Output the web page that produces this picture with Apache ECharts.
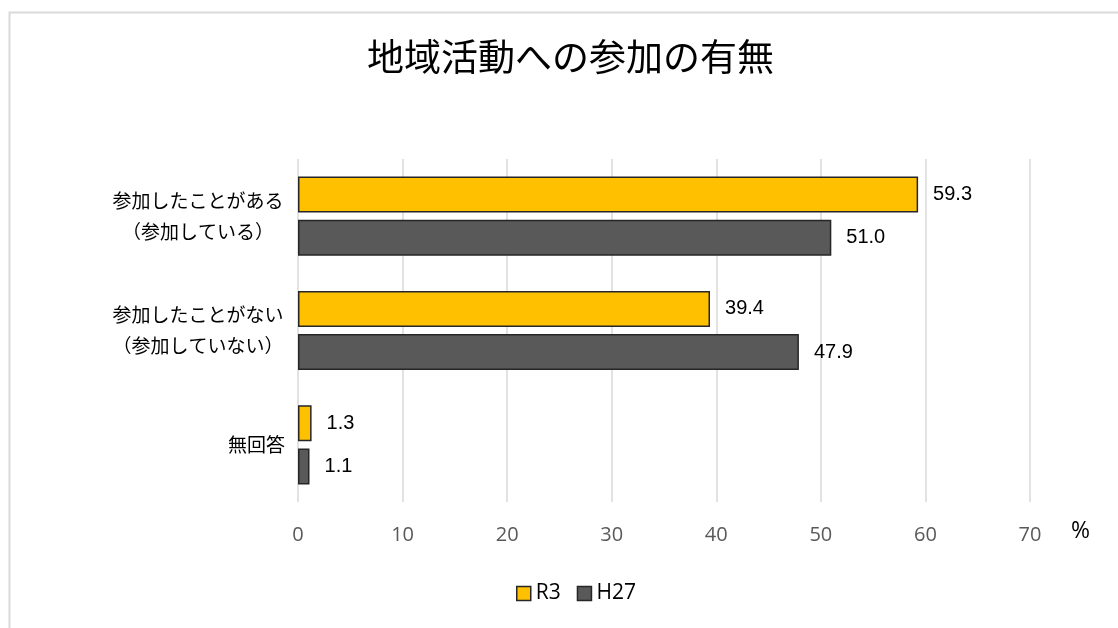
<!DOCTYPE html>
<html>
<head>
<meta charset="utf-8">
<script src="https://cdn.jsdelivr.net/npm/echarts@6/dist/echarts.min.js"></script>
<style>
  html, body { margin: 0; padding: 0; background: #fff; }
  #chart { width: 1118px; height: 628px; }
</style>
</head>
<body>
<div id="chart"></div>
<script>
// Survey answers: participation in local community activities (%)
const categories = ['参加したことがある\n（参加している）', '参加したことがない\n（参加していない）', '無回答'];
const seriesNames = ['R3', 'H27'];
const valuesR3 = [59.3, 39.4, 1.3];
const valuesH27 = [51.0, 47.9, 1.1];
const seriesColors = ['#FFC000', '#595959'];

const chart = echarts.init(document.getElementById('chart'));

const labelFont = '"Noto Sans CJK JP", "Noto Sans", sans-serif';
const numFont = '"Liberation Sans", Arial, sans-serif';

function makeSeries(name, data, color) {
  return {
    name: name,
    type: 'bar',
    data: data,
    barWidth: 36,
    barGap: '20%',
    itemStyle: { color: color, borderColor: '#262626', borderWidth: 1.5 },
    label: {
      show: true,
      position: 'right',
      distance: 15,
      color: '#000',
      fontFamily: numFont,
      fontSize: 20,
      formatter: p => p.value.toFixed(1)
    }
  };
}

chart.setOption({
  animation: false,
  backgroundColor: '#fff',
  title: {
    text: '地域活動への参加の有無',
    left: 362,
    top: 33,
    textStyle: { fontFamily: labelFont, fontSize: 37, fontWeight: 'normal', color: '#000' }
  },
  legend: {
    bottom: 19,
    left: 511,
    itemWidth: 14,
    itemHeight: 14,
    itemGap: 16,
    icon: 'rect',
    textStyle: { fontFamily: '"Open Sans", sans-serif', fontSize: 21, color: '#000' },
    data: seriesNames.map((n, i) => ({
      name: n,
      itemStyle: { color: seriesColors[i], borderColor: '#262626', borderWidth: 1.5 }
    }))
  },
  grid: { left: 298, right: 88, top: 159, bottom: 126 },
  xAxis: {
    type: 'value',
    min: 0,
    max: 70,
    interval: 10,
    axisLine: { show: false },
    axisTick: { show: false },
    axisLabel: { margin: 23, fontFamily: '"Open Sans", sans-serif', fontSize: 20, color: '#595959' },
    splitLine: { show: true, lineStyle: { color: '#d9d9d9', width: 1.5 } }
  },
  yAxis: {
    type: 'category',
    inverse: true,
    data: categories,
    axisLine: { show: false },
    axisTick: { show: false },
    axisLabel: {
      margin: 13,
      align: 'right',
      fontFamily: labelFont,
      fontSize: 19,
      lineHeight: 31,
      color: '#000',
      formatter: v => v.indexOf('\n') >= 0
        ? v.split('\n').map(s => '{c|' + s + '}').join('\n')
        : v,
      rich: {
        c: { width: 174, align: 'center', fontFamily: labelFont, fontSize: 19, lineHeight: 31, color: '#000' }
      }
    }
  },
  series: [
    makeSeries(seriesNames[0], valuesR3, seriesColors[0]),
    makeSeries(seriesNames[1], valuesH27, seriesColors[1])
  ],
  graphic: [
    {
      type: 'rect',
      left: 7, top: 10,
      shape: { width: 1200, height: 700 },
      style: { fill: 'none', stroke: '#d9d9d9', lineWidth: 2 },
      z: -1
    },
    {
      type: 'text',
      left: 1071, top: 520,
      style: { text: '%', fontFamily: '"Open Sans", sans-serif', fontSize: 23, fill: '#000' }
    }
  ]
});
</script>
</body>
</html>
